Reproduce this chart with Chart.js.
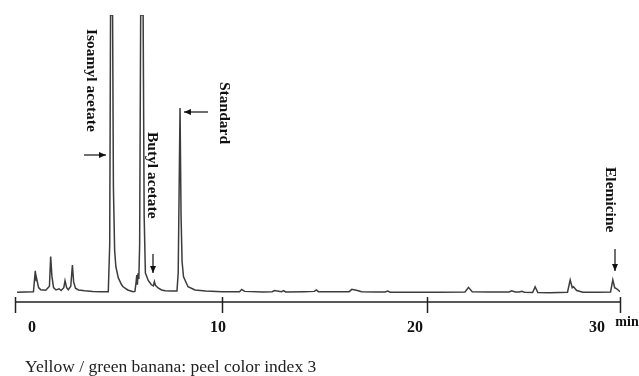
<!DOCTYPE html>
<html>
<head>
<meta charset="utf-8">
<script src="https://cdn.jsdelivr.net/npm/chart.js@4"></script>
<style>
    html, body { margin: 0; padding: 0; background: #fff; }
    #wrap { width: 639px; height: 376px; position: relative; }
</style>
</head>
<body>
<div id="wrap"><canvas id="chartCromatograma"></canvas></div>
<script>
const tiempos = [
    0.00, 0.40, 0.80, 0.86, 0.89, 0.93, 0.97, 1.05, 1.15, 1.40,
    1.58, 1.64, 1.70, 1.78, 1.90, 2.05, 2.15, 2.28, 2.34, 2.42,
    2.50, 2.62, 2.70, 2.76, 2.85, 3.00, 3.30, 3.70, 4.10, 4.45,
    4.52, 4.56, 4.66, 4.70, 4.76, 4.82, 4.94, 5.10, 5.17, 5.40,
    5.66, 5.75, 5.80, 5.84, 5.87, 5.90, 5.94, 5.98, 6.03, 6.15,
    6.20, 6.26, 6.40, 6.55, 6.65, 6.70, 6.75, 6.88, 7.05, 7.22,
    7.50, 7.80, 7.86, 7.95, 8.00, 8.05, 8.12, 8.34, 8.68, 9.20,
    10.00, 10.85, 10.96, 11.10, 12.00, 12.45, 12.55, 12.90, 13.00, 13.10,
    14.00, 14.50, 14.60, 14.70, 15.50, 16.20, 16.33, 16.60, 16.80, 17.50,
    17.95, 18.08, 18.20, 19.50, 20.50, 21.85, 22.02, 22.20, 23.00, 24.00,
    24.13, 24.30, 24.50, 24.62, 24.75, 25.15, 25.27, 25.40, 26.00, 26.85,
    26.98, 27.08, 27.14, 27.30, 27.60, 28.30, 28.95, 29.06, 29.15, 29.25,
    29.41
];
const senal = [
    3.4, 3.5, 3.6, 8.5, 10.9, 7.5, 7.7, 5.0, 4.3, 4.1,
    5.5, 15.8, 9.0, 5.0, 4.2, 4.6, 4.0, 5.0, 7.4, 5.0,
    4.3, 5.5, 12.9, 7.0, 4.8, 4.2, 3.9, 3.7, 3.6, 3.6,
    20, 100, 100, 40, 18, 12.3, 8.4, 6.0, 5.3, 4.2,
    3.6, 3.7, 6.5, 9.4, 6.0, 10.0, 8.0, 20, 100, 100,
    30, 10.1, 7.5, 6.0, 5.6, 7.1, 5.8, 4.9, 4.2, 3.9,
    3.8, 3.8, 10, 67.6, 30, 14, 8.8, 5.3, 4.2, 3.8,
    3.6, 3.6, 4.4, 3.7, 3.5, 3.6, 4.0, 3.6, 4.0, 3.5,
    3.6, 3.7, 4.2, 3.6, 3.6, 3.6, 4.4, 4.0, 3.6, 3.5,
    3.5, 3.8, 3.4, 3.4, 3.4, 3.5, 5.1, 3.6, 3.5, 3.5,
    3.9, 3.5, 3.5, 3.7, 3.4, 3.3, 5.3, 3.3, 3.2, 3.4,
    7.7, 5.0, 5.3, 4.0, 3.4, 3.4, 3.5, 7.7, 5.0, 4.6,
    3.6
];
const etiquetasEjeX = ['0', '10', '20', '30'];
const marcasEjeX = [10, 20];
const compuestos = ['Isoamyl acetate', 'Butyl acetate', 'Standard', 'Elemicine'];
const leyenda = 'Yellow / green banana: peel color index 3';

const serif = '"Liberation Serif", "Times New Roman", serif';

function flecha(ctx, x1, y1, x2, y2) {
    const ang = Math.atan2(y2 - y1, x2 - x1);
    ctx.beginPath();
    ctx.moveTo(x1, y1);
    ctx.lineTo(x2, y2);
    ctx.stroke();
    ctx.beginPath();
    ctx.moveTo(x2, y2);
    ctx.lineTo(x2 - 7 * Math.cos(ang) + 3 * Math.sin(ang), y2 - 7 * Math.sin(ang) - 3 * Math.cos(ang));
    ctx.lineTo(x2 - 7 * Math.cos(ang) - 3 * Math.sin(ang), y2 - 7 * Math.sin(ang) + 3 * Math.cos(ang));
    ctx.closePath();
    ctx.fill();
}

function textoVertical(ctx, texto, cx, y) {
    ctx.save();
    ctx.translate(cx, y);
    ctx.rotate(Math.PI / 2);
    ctx.textAlign = 'left';
    ctx.textBaseline = 'middle';
    ctx.fillText(texto, 0, 0);
    ctx.restore();
}

const ejeYAnotaciones = {
    id: 'ejeYAnotaciones',
    afterDraw(chart) {
        const ctx = chart.ctx;
        const x = chart.scales.x;
        const area = chart.chartArea;
        const yEje = area.bottom;

        ctx.save();
        ctx.strokeStyle = '#222';
        ctx.fillStyle = '#111';
        ctx.lineWidth = 1.5;

        // eje de tiempo
        ctx.beginPath();
        ctx.moveTo(area.left, yEje);
        ctx.lineTo(area.right, yEje);
        [area.left, ...marcasEjeX.map(v => x.getPixelForValue(v)), area.right].forEach(px => {
            ctx.moveTo(Math.round(px) + 0.5, yEje - 5);
            ctx.lineTo(Math.round(px) + 0.5, yEje + 11);
        });
        ctx.stroke();

        ctx.font = 'bold 16px ' + serif;
        ctx.textAlign = 'center';
        ctx.textBaseline = 'middle';
        const posEtiquetas = [32, 218, 415, 597];
        etiquetasEjeX.forEach((t, i) => ctx.fillText(t, posEtiquetas[i], yEje + 26));
        ctx.font = 'bold 14px ' + serif;
        ctx.fillText('min', 627, yEje + 20);

        // leyenda inferior
        ctx.font = '17.5px ' + serif;
        ctx.textAlign = 'left';
        ctx.fillStyle = '#222';
        ctx.fillText(leyenda, 25, 367);

        // compuestos
        ctx.fillStyle = '#111';
        ctx.font = 'bold 15.5px ' + serif;
        textoVertical(ctx, compuestos[0], 91, 29);
        textoVertical(ctx, compuestos[1], 152, 132);
        textoVertical(ctx, compuestos[2], 224, 82);
        textoVertical(ctx, compuestos[3], 610, 167);

        ctx.lineWidth = 1.3;
        flecha(ctx, 84, 155, 106, 155);
        flecha(ctx, 153, 254, 153, 273);
        flecha(ctx, 208, 112, 184, 112);
        flecha(ctx, 615, 249, 615, 271);
        ctx.restore();
    }
};

const canvas = document.getElementById('chartCromatograma');
window.chartCromatograma = new Chart(canvas, {
    type: 'line',
    data: {
        datasets: [{
            data: tiempos.map((t, i) => ({ x: t, y: senal[i] })),
            borderColor: '#3c3c3c',
            borderWidth: 1.5,
            pointRadius: 0,
            tension: 0,
            fill: false
        }]
    },
    options: {
        responsive: true,
        maintainAspectRatio: false,
        animation: false,
        layout: { padding: { left: 15, right: 19, top: 15, bottom: 74 } },
        plugins: {
            legend: { display: false },
            tooltip: { enabled: false }
        },
        scales: {
            x: { type: 'linear', min: -0.1, max: 29.41, display: false },
            y: { min: 0, max: 100, display: false }
        }
    },
    plugins: [ejeYAnotaciones]
});
</script>
</body>
</html>
